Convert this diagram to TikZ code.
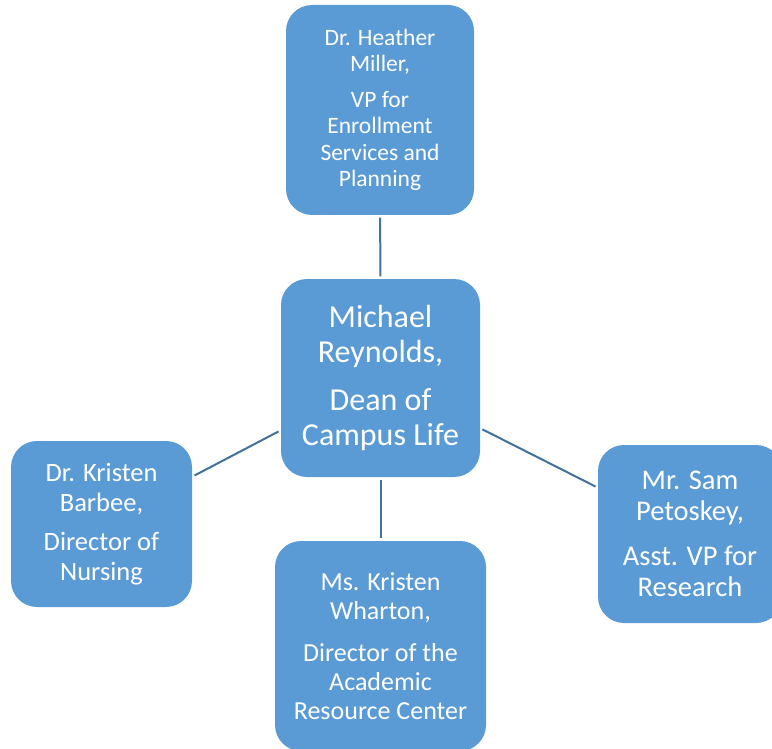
\documentclass[tikz,border=0pt]{standalone}
\usepackage{fontspec}
\setmainfont{Carlito}
\definecolor{boxfill}{HTML}{5B9BD5}
\definecolor{linkcol}{HTML}{41719C}
\begin{document}
\begin{tikzpicture}[x=1pt,y=-1pt]
\tikzstyle{every node}+=[inner sep=0pt]
\tikzstyle{person}=[rectangle, rounded corners=26pt, fill=boxfill, text=white, align=center]
\tikzstyle{link}=[linkcol, line width=2pt, shorten <=2.5pt, shorten >=2.5pt]
\useasboundingbox (0,0) rectangle (772,749);
\node [person, minimum width=188pt, minimum height=210pt, font=\fontsize{23.5}{26.5}\selectfont] (heather) at (380,110) {Dr. Heather\\Miller,\\[9pt]VP for\\Enrollment\\Services and\\Planning};
\node [person, minimum width=199pt, minimum height=198pt, font=\fontsize{32}{35}\selectfont] (michael) at (380.5,378) {Michael\\Reynolds,\\[13pt]Dean of\\Campus Life};
\node [person, minimum width=181pt, minimum height=166pt, font=\fontsize{26.5}{29.5}\selectfont] (kristenb) at (101.5,524) {Dr. Kristen\\Barbee,\\[10pt]Director of\\Nursing};
\node [person, minimum width=211pt, minimum height=210pt, font=\fontsize{26}{29}\selectfont] (kristenw) at (380.5,646) {Ms. Kristen\\Wharton,\\[13pt]Director of the\\Academic\\Resource Center};
\node [person, minimum width=184pt, minimum height=178pt, font=\fontsize{28.5}{31.5}\selectfont] (sam) at (690,534) {Mr. Sam\\Petoskey,\\[13pt]Asst. VP for\\Research};
\draw [link] (heather) -- (michael);
\draw [link] (michael) -- (kristenb);
\draw [link] (michael) -- (kristenw);
\draw [link] (michael) -- (sam);
\end{tikzpicture}
\end{document}
